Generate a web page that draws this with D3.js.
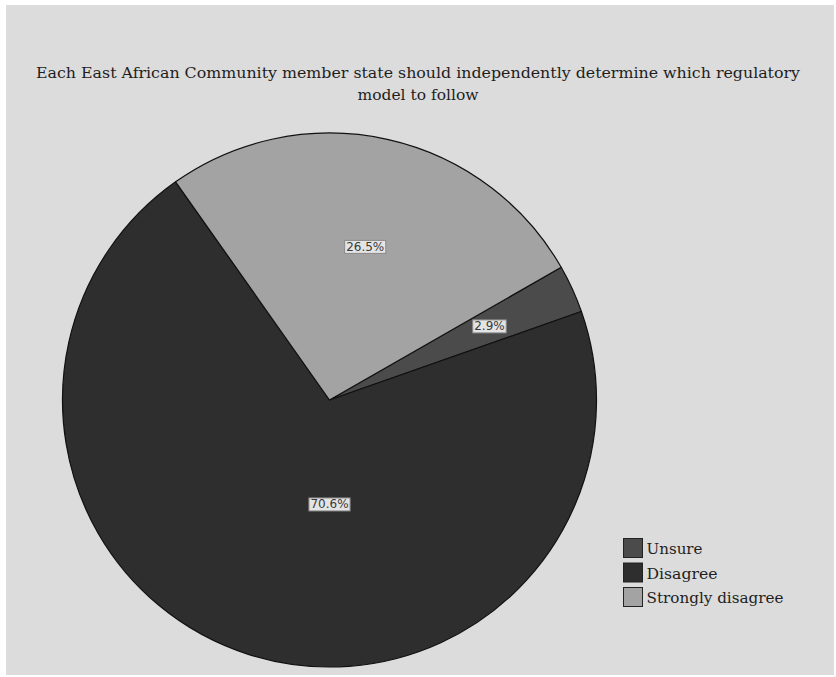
<!DOCTYPE html>
<html>
<head>
<meta charset="utf-8">
<script src="https://cdn.jsdelivr.net/npm/d3@7/dist/d3.min.js"></script>
<style>
  html, body { margin: 0; padding: 0; background: #ffffff; }
  svg { display: block; }
</style>
</head>
<body>
<svg id="chart" width="836" height="677"></svg>
<script>
// Responses to the statement, in drawing order (clockwise)
const categories = ["Unsure", "Disagree", "Strongly disagree"];
const percents = [2.9, 70.6, 26.5];
const sliceColors = ["#4b4b4b", "#2e2e2e", "#a3a3a3"];
const titleLines = [
  "Each East African Community member state should independently determine which regulatory",
  "model to follow"
];

const svg = d3.select("#chart");
const W = 836, H = 677;
const serif = "'DejaVu Serif', 'Liberation Serif', serif";

// Panel background
svg.append("rect")
  .attr("x", 6).attr("y", 5)
  .attr("width", W - 8).attr("height", H - 7)
  .attr("fill", "#dcdcdc");

// Title, two centred lines
const titleWidths = [764, 121];
titleLines.forEach((t, i) => {
  svg.append("text")
    .attr("x", 418).attr("y", 78 + i * 22)
    .attr("text-anchor", "middle")
    .attr("font-family", serif)
    .attr("font-size", 15)
    .attr("fill", "#1e1e1e")
    .attr("textLength", titleWidths[i])
    .attr("lengthAdjust", "spacingAndGlyphs")
    .text(t);
});

// Pie
const cx = 329.5, cy = 400, radius = 267;
const startDeg = 60.2;
const pie = d3.pie()
  .sort(null)
  .value(d => d)
  .startAngle(startDeg * Math.PI / 180)
  .endAngle((startDeg + 360) * Math.PI / 180);
const arcs = pie(percents);
const arc = d3.arc().innerRadius(0).outerRadius(radius);

const g = svg.append("g").attr("transform", `translate(${cx},${cy})`);
g.selectAll("path.slice")
  .data(arcs)
  .join("path")
  .attr("class", "slice")
  .attr("d", arc)
  .attr("fill", (d, i) => sliceColors[i])
  .attr("stroke", "#111")
  .attr("stroke-width", 1.2)
  .attr("stroke-linejoin", "round");

// Percentage labels in boxes: direction (deg clockwise from 12 o'clock) and
// distance as a fraction of the radius
const labelAngle = [65.2, 180, 13.1];
const labelRadius = [0.66, 0.39, 0.59];
const labels = g.selectAll("g.lbl")
  .data(arcs)
  .join("g")
  .attr("class", "lbl")
  .attr("transform", (d, i) => {
    const a = labelAngle[i] * Math.PI / 180;
    const r = radius * labelRadius[i];
    return `translate(${r * Math.sin(a)},${-r * Math.cos(a)})`;
  });

labels.each(function(d, i) {
  const sel = d3.select(this);
  const txt = sel.append("text")
    .attr("text-anchor", "middle")
    .attr("dy", "0.36em")
    .attr("font-family", "'DejaVu Sans', sans-serif")
    .attr("font-size", 12)
    .attr("fill", "#3a3a3a")
    .text(percents[i].toFixed(1) + "%");
  const bb = txt.node().getBBox();
  sel.insert("rect", "text")
    .attr("x", bb.x - 1.5).attr("y", bb.y + 0.5)
    .attr("width", bb.width + 3).attr("height", bb.height - 1)
    .attr("fill", "#e4e4e4")
    .attr("stroke", "#8a8a8a")
    .attr("stroke-width", 1);
});

// Legend
const legendWidths = [56, 71, 137];
const legend = svg.append("g").attr("transform", "translate(623,538)");
const items = legend.selectAll("g")
  .data(categories)
  .join("g")
  .attr("transform", (d, i) => `translate(0,${i * 24.5})`);
items.append("rect")
  .attr("x", 0.5).attr("y", 0.5)
  .attr("width", 19).attr("height", 19)
  .attr("fill", (d, i) => sliceColors[i])
  .attr("stroke", "#222")
  .attr("stroke-width", 1);
items.append("text")
  .attr("x", 23.5).attr("y", 16)
  .attr("font-family", serif)
  .attr("font-size", 15.5)
  .attr("fill", "#1e1e1e")
  .attr("textLength", (d, i) => legendWidths[i])
  .attr("lengthAdjust", "spacingAndGlyphs")
  .text(d => d);
</script>
</body>
</html>
